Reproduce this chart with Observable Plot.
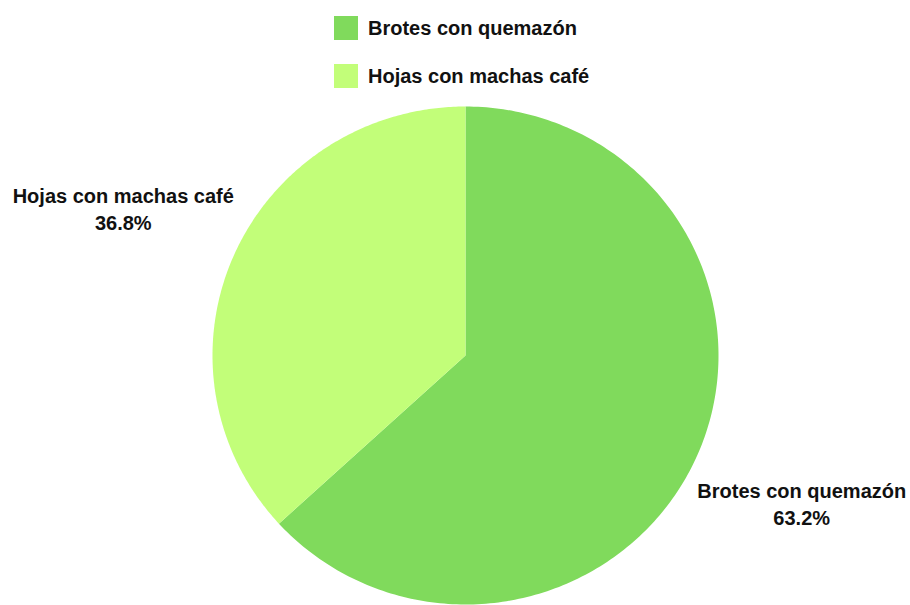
<!DOCTYPE html>
<html>
<head>
<meta charset="utf-8">
<script src="https://cdn.jsdelivr.net/npm/d3@7"></script>
<script src="https://cdn.jsdelivr.net/npm/@observablehq/plot@0.6"></script>
<style>
  html, body { margin: 0; padding: 0; background: #fff; }
  #wrap { position: relative; width: 910px; height: 605px; font-family: "Liberation Sans", Arial, sans-serif; }
  #legend { position: absolute; left: 334px; top: 16px; }
  .item { display: flex; align-items: center; height: 24px; margin-bottom: 24px; font-weight: bold; font-size: 20px; color: #111; }
  .sw { width: 24px; height: 24px; margin-right: 10px; }
</style>
</head>
<body>
<div id="wrap"><div id="legend"></div></div>
<script>
const categories = ["Brotes con quemazón", "Hojas con machas café"];
const values = [63.2, 36.8];
const colors = ["#80DA5C", "#C2FE79"];
const labels = ["63.2%", "36.8%"];

const pie = d3.pie().sort(null).value(d => d)(values);
const poly = [];
pie.forEach((s, i) => {
  const n = 240;
  poly.push({cat: categories[i], x: 0, y: 0});
  for (let k = 0; k <= n; k++) {
    const a = s.startAngle + (s.endAngle - s.startAngle) * k / n;
    poly.push({cat: categories[i], x: Math.sin(a), y: Math.cos(a)});
  }
  poly.push({cat: categories[i], x: 0, y: 0});
});
const lab = pie.map((s, i) => {
  const a = (s.startAngle + s.endAngle) / 2;
  return {x: 1.465 * Math.sin(a), y: 1.47 * Math.cos(a), t: categories[i] + "\n" + labels[i]};
});

const RX = 253, RY = 249, cx = 465, cy = 355, W = 910, H = 605;
const chart = Plot.plot({
  width: W, height: H,
  margin: 0,
  x: {domain: [-cx / RX, (W - cx) / RX], axis: null},
  y: {domain: [-(H - cy) / RY, cy / RY], axis: null},
  color: {domain: categories, range: colors},
  marks: [
    Plot.line(poly, {x: "x", y: "y", z: "cat", fill: "cat", stroke: "none", curve: "linear"}),
    Plot.text(lab, {x: "x", y: "y", text: "t", dx: -3, fontSize: 20, fontWeight: "bold", lineHeight: 1.35, fill: "#111", fontFamily: "Liberation Sans, Arial, sans-serif"})
  ]
});
document.getElementById("wrap").prepend(chart);
chart.style.position = "absolute";
chart.style.left = "0";
chart.style.top = "0";

const leg = document.getElementById("legend");
categories.forEach((c, i) => {
  const d = document.createElement("div");
  d.className = "item";
  d.innerHTML = `<div class="sw" style="background:${colors[i]}"></div><span>${c}</span>`;
  leg.appendChild(d);
});
</script>
</body>
</html>
